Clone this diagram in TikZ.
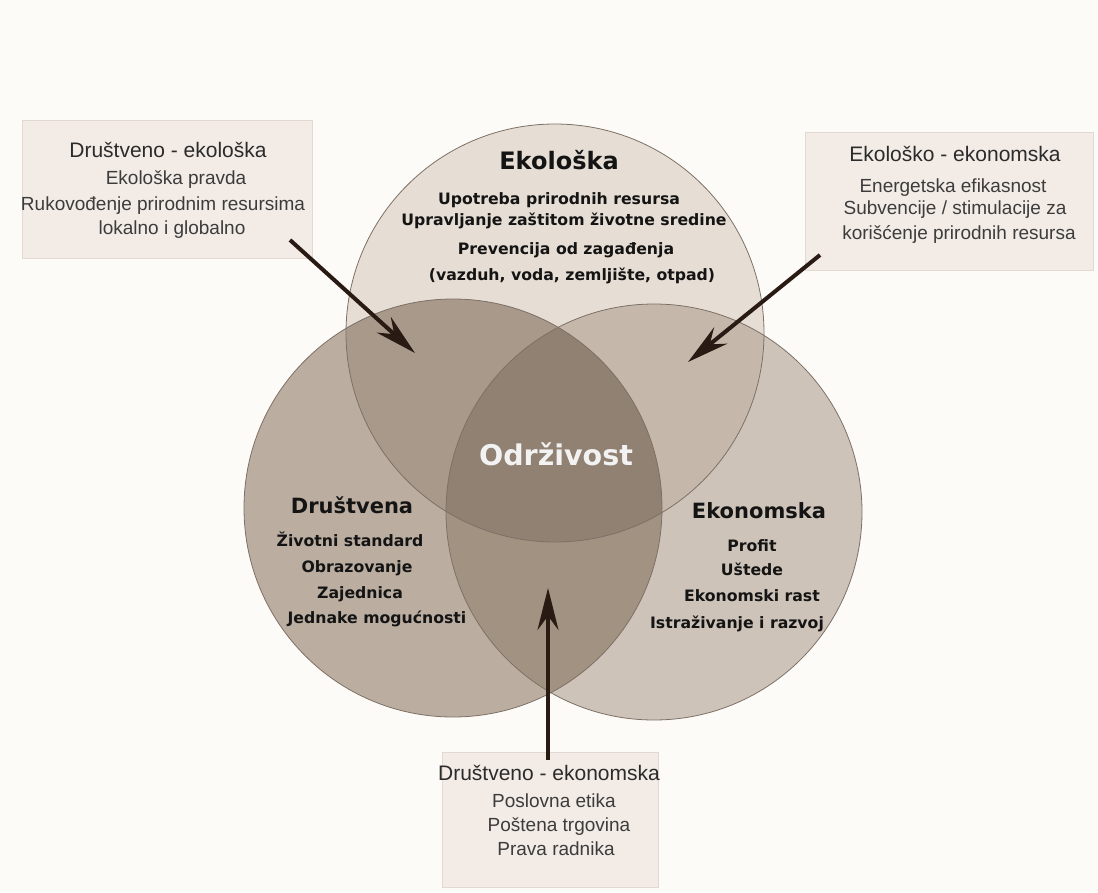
\documentclass[tikz,border=0pt]{standalone}
\usepackage{fontspec}
\setmainfont{Liberation Sans}
\newfontfamily\circfont{DejaVu Sans}
\usetikzlibrary{arrows.meta}
\definecolor{bgc}{HTML}{FCFBF7}
\definecolor{topc}{HTML}{E6DED5}
\definecolor{leftc}{HTML}{BBAEA1}
\definecolor{rightc}{HTML}{CEC3B8}
\definecolor{tlc}{HTML}{A8998B}
\definecolor{trc}{HTML}{C5B8AB}
\definecolor{lrc}{HTML}{A29282}
\definecolor{centerc}{HTML}{918172}
\definecolor{ringc}{HTML}{7E7066}
\definecolor{boxfill}{HTML}{F3ECE6}
\definecolor{boxdraw}{HTML}{E2D9D1}
\definecolor{titlec}{HTML}{2B2B2B}
\definecolor{textc}{HTML}{3C3C3C}
\definecolor{arrc}{HTML}{2A1A14}
\begin{document}
\begin{tikzpicture}[x=1pt,y=-1pt,
  infobox/.style={draw=boxdraw,line width=0.8pt,fill=boxfill,inner sep=0,anchor=north west},
  boxtitle/.style={font=\fontsize{21}{25}\selectfont,text=titlec,anchor=mid,inner sep=0},
  boxline/.style={font=\fontsize{19}{23}\selectfont,text=textc,anchor=mid,inner sep=0},
  circhead/.style={font=\circfont\bfseries\fontsize{21}{25}\selectfont,text=black!92,anchor=mid,inner sep=0},
  circline/.style={font=\circfont\bfseries\fontsize{15.7}{19}\selectfont,text=black!92,anchor=mid,inner sep=0},
  ring/.style={draw=ringc,line width=0.8pt},
  arr/.style={draw=arrc,line width=4pt,-{Stealth[length=42pt,width=21pt,inset=14pt]}}]
\useasboundingbox (0,0) rectangle (1098,892);
\fill[bgc] (0,0) rectangle (1098,892);
% circle centres
\coordinate (T) at (555,333);
\coordinate (L) at (453,508);
\coordinate (R) at (654,512);
% fills
\fill[topc] (T) circle (209pt);
\fill[leftc] (L) circle (209pt);
\fill[rightc] (R) circle (208pt);
\begin{scope}
  \clip (T) circle (209pt);
  \fill[tlc] (L) circle (209pt);
  \fill[trc] (R) circle (208pt);
\end{scope}
\begin{scope}
  \clip (L) circle (209pt);
  \fill[lrc] (R) circle (208pt);
\end{scope}
\begin{scope}
  \clip (T) circle (209pt);
  \clip (L) circle (209pt);
  \fill[centerc] (R) circle (208pt);
\end{scope}
\draw[ring] (T) circle (209pt);
\draw[ring] (L) circle (209pt);
\draw[ring] (R) circle (208pt);
% circle texts
\node[circhead,font=\circfont\bfseries\fontsize{24}{28}\selectfont] (eko) at (559,167) {Ekološka};
\node[circline] (e1) at (559,202) {Upotreba prirodnih resursa};
\node[circline] (e2) at (564,223) {Upravljanje zaštitom životne sredine};
\node[circline] (e3) at (566,252) {Prevencija od zagađenja};
\node[circline] (e4) at (572,278) {(vazduh, voda, zemljište, otpad)};
\node[circhead,font=\circfont\bfseries\fontsize{28.5}{32}\selectfont,text=white!95!black] (odr) at (556,463) {Održivost};
\node[circhead] (dru) at (352,511) {Društvena};
\node[circline] (d1) at (350,544) {Životni standard};
\node[circline] (d2) at (357,570) {Obrazovanje};
\node[circline] (d3) at (360,596) {Zajednica};
\node[circline] (d4) at (377,621) {Jednake mogućnosti};
\node[circhead] (ekn) at (759,516) {Ekonomska};
\node[circline] (k1) at (752,549) {Profit};
\node[circline] (k2) at (752,573) {Uštede};
\node[circline] (k3) at (752,599) {Ekonomski rast};
\node[circline] (k4) at (737,626) {Istraživanje i razvoj};
% boxes
\node[infobox,minimum width=290pt,minimum height=138pt] (lbox) at (22,120) {};
\node[infobox,minimum width=288pt,minimum height=138pt] (rbox) at (805,132) {};
\node[infobox,minimum width=216pt,minimum height=135pt] (bbox) at (442,752) {};
\node[boxtitle] (lt) at (168,155) {Društveno - ekološka};
\node[boxline] (l1) at (176,182) {Ekološka pravda};
\node[boxline] (l2) at (163,208) {Rukovođenje prirodnim resursima};
\node[boxline] (l3) at (172,232) {lokalno i globalno};
\node[boxtitle] (rt) at (955,159) {Ekološko - ekonomska};
\node[boxline] (r1) at (953,190) {Energetska efikasnost};
\node[boxline] (r2) at (955,212) {Subvencije / stimulacije za};
\node[boxline] (r3) at (959,237) {korišćenje prirodnih resursa};
\node[boxtitle] (bt) at (549,778) {Društveno - ekonomska};
\node[boxline] (b1) at (554,805) {Poslovna etika};
\node[boxline] (b2) at (559,829) {Poštena trgovina};
\node[boxline] (b3) at (556,853) {Prava radnika};
% arrows
\coordinate (la) at (290,240);
\coordinate (lb) at (415,353);
\coordinate (ra) at (820,255);
\coordinate (rb) at (688,362);
\coordinate (ba) at (548,760);
\coordinate (bb) at (548,588);
\draw[arr] (la) -- (lb);
\draw[arr] (ra) -- (rb);
\draw[arr] (ba) -- (bb);
\end{tikzpicture}
\end{document}
